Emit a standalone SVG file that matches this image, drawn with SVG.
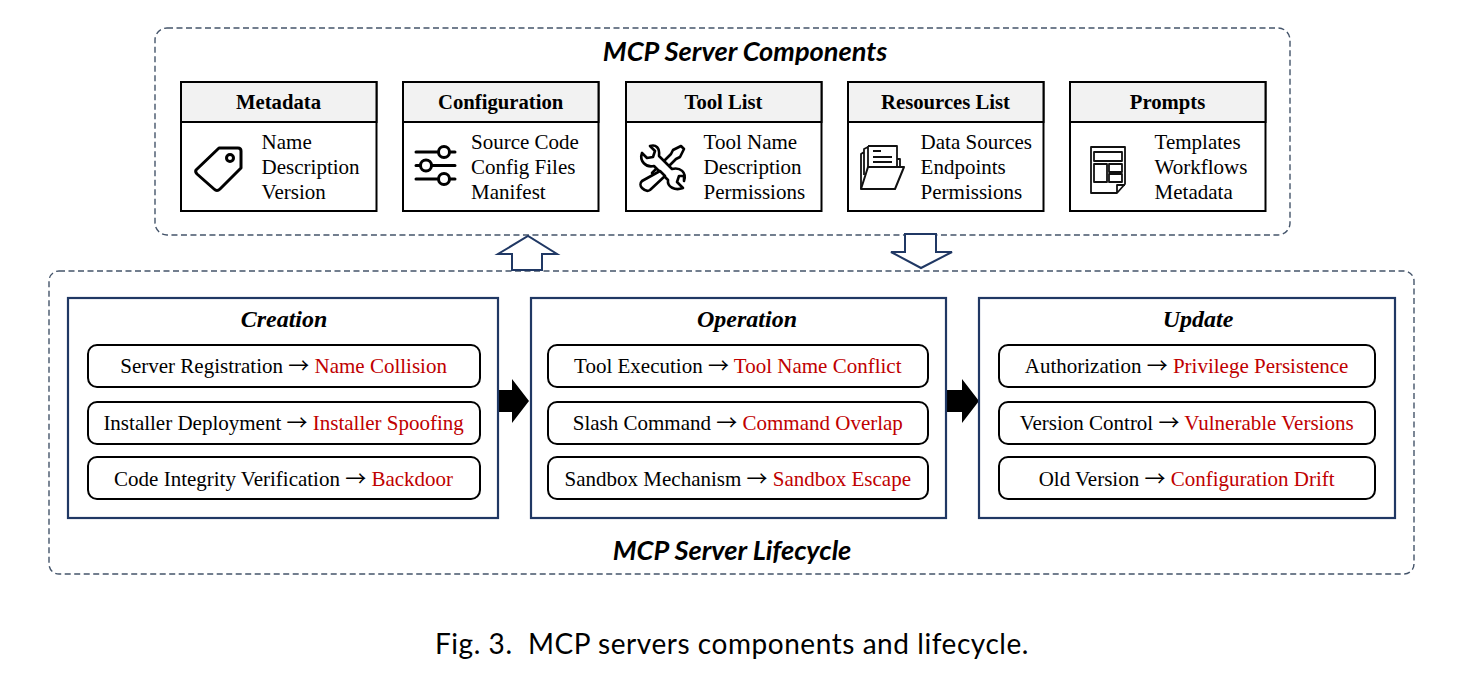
<svg xmlns="http://www.w3.org/2000/svg" width="1468" height="690" viewBox="0 0 1468 690">
<style>
text{font-family:"Liberation Serif","Times New Roman",serif;font-size:21px;fill:#000}
.hd{font-weight:bold;text-anchor:middle;font-size:20.7px}
.ph{font-weight:bold;font-style:italic;text-anchor:middle;font-size:24px}
.ti{font-family:"Lato","Open Sans",sans-serif;font-weight:bold;font-style:italic;text-anchor:middle;font-size:27.2px}
.cap{font-family:"Lato","Noto Sans",sans-serif;font-size:28px;letter-spacing:.55px;text-anchor:middle;white-space:pre}
.row{text-anchor:middle}
.r{fill:#c00000}
.a{font-family:"Noto Sans CJK SC","Liberation Serif",serif}
.dash{fill:none;stroke:#44546a;stroke-width:1.4;stroke-dasharray:6 3.5}
.card{fill:#fff;stroke:#000;stroke-width:2}
.head{fill:#f2f2f2;stroke:#000;stroke-width:2}
.phase{fill:#fff;stroke:#203864;stroke-width:2.2}
.pill{fill:#fff;stroke:#000;stroke-width:2}
.hol{fill:#fff;stroke:#203864;stroke-width:2}
.ic{fill:none;stroke:#000;stroke-width:3;stroke-linecap:round;stroke-linejoin:round}
.tl{fill:#fff;stroke:#000;stroke-width:2.6;stroke-linejoin:round}
.ic2{fill:none;stroke:#111;stroke-width:1.8;stroke-linejoin:round}
</style>
<rect width="1468" height="690" fill="#fff"/>
<g id="components">
<rect class="dash" x="155" y="28" width="1135" height="207" rx="12"/>
<text class="ti" x="745" y="61">MCP Server Components</text>
</g>
<g id="lifecycle">
<rect class="dash" x="49" y="271" width="1365" height="303" rx="10"/>
<text class="ti" x="732" y="560">MCP Server Lifecycle</text>
</g>
<g id="metadata">
<rect class="card" x="181" y="82" width="195.500" height="129"/>
<rect class="head" x="181" y="82" width="195.500" height="40"/>
<text class="hd" x="278.500" y="109">Metadata</text>
<text x="261.600" y="149">Name</text><text x="261.600" y="174">Description</text><text x="261.600" y="199">Version</text>
<path class="ic" d="M196 170 L219 148 H238 Q241 148 241 151 V168 L220 189 Q217 192 214 189 L197 174 Q195 172 196 170Z"/>
<circle class="ic" cx="230" cy="158" r="3.5"/>
</g>
<g id="configuration">
<rect class="card" x="403" y="82" width="195.500" height="129"/>
<rect class="head" x="403" y="82" width="195.500" height="40"/>
<text class="hd" x="500.700" y="109">Configuration</text>
<text x="471" y="149">Source Code</text><text x="471" y="174">Config Files</text><text x="471" y="199">Manifest</text>
<path class="ic" d="M416 152 H438 M450 152 H455 M416 165.500 H420 M432 165.500 H455 M416 179 H438 M450 179 H455"/>
<circle class="ic" cx="444" cy="152" r="5.500"/><circle class="ic" cx="426" cy="165.500" r="5.500"/><circle class="ic" cx="444" cy="179" r="5.500"/>
</g>
<g id="toollist">
<rect class="card" x="626" y="82" width="195.500" height="129"/>
<rect class="head" x="626" y="82" width="195.500" height="40"/>
<text class="hd" x="723.500" y="109">Tool List</text>
<text x="703.600" y="149">Tool Name</text><text x="703.600" y="174">Description</text><text x="703.600" y="199">Permissions</text>
<path class="tl" d="M681 146 L684 149 L680 157 L676 159 L657 178 L652 173 L671 154 L673 150 Z"/>
<path class="tl" d="M650 146 L655 151 L653 157 L647 158 L642 153 C639 161 646 168 654 166 L668 180 C667 187 675 191 683 188 L677 182 L679 176 L684 176 L684 181 C687 172 680 167 672 169 L659 156 C660 148 656 144 650 146 Z"/>
<path class="tl" d="M660 171 L665 176 L650 190 C647 192 644 190 642 188 C640 186 640 183 642 181 Z"/>
</g>
<g id="resources">
<rect class="card" x="848" y="82" width="195.500" height="129"/>
<rect class="head" x="848" y="82" width="195.500" height="40"/>
<text class="hd" x="945.500" y="109">Resources List</text>
<text x="920.600" y="149">Data Sources</text><text x="920.600" y="174">Endpoints</text><text x="920.600" y="199">Permissions</text>
<path class="ic2" d="M868 146 H897 V167 M868 146 V167 M861 189 V154 L864 152 V149 L868 147 M864 152 V175 M897 159 H900 V167"/>
<path class="ic2" d="M873 151 H881 M873 157 H892 M873 162 H892"/>
<path class="ic2" style="stroke-width:2" d="M861 189 H895 L904 167 H868 Z"/>
</g>
<g id="prompts">
<rect class="card" x="1070" y="82" width="195.500" height="129"/>
<rect class="head" x="1070" y="82" width="195.500" height="40"/>
<text class="hd" x="1167.500" y="109">Prompts</text>
<text x="1154.600" y="149">Templates</text><text x="1154.600" y="174">Workflows</text><text x="1154.600" y="199">Metadata</text>
<path class="ic2" d="M1091 147 H1125 V184 L1117 193 H1091 Z M1117 193 V185 H1125"/>
<path class="ic2" d="M1094 152 H1122 V161 H1094 Z M1094 164 H1107 V182 H1094 Z M1109 164 H1122 V172 H1109 Z M1109 174 H1122 V182 H1109 Z"/>
</g>
<g id="connectors">
<path class="hol" d="M512 270 V254 H498 L528 236 L557 254 H542 V270 Z"/>
<path class="hol" d="M905 234 V252 H891 L921 268 L952 252 H936 V234 Z"/>
<path fill="#000" d="M498 390 H512 V379 L529 401 L512 423 V412 H498 Z"/>
<path fill="#000" d="M946 390 H962 V379 L979 401 L962 423 V412 H946 Z"/>
</g>
<g id="creation">
<rect class="phase" x="68" y="298" width="430" height="220"/>
<text class="ph" x="284" y="327">Creation</text>
<rect class="pill" x="88" y="345" width="392" height="42" rx="9"/>
<text class="row" x="283.600" y="373">Server Registration <tspan class="a">→</tspan> <tspan class="r">Name Collision</tspan></text>
<rect class="pill" x="88" y="402" width="392" height="42" rx="9"/>
<text class="row" x="283.600" y="430">Installer Deployment <tspan class="a">→</tspan> <tspan class="r">Installer Spoofing</tspan></text>
<rect class="pill" x="88" y="457" width="392" height="42" rx="9"/>
<text class="row" x="283.600" y="486">Code Integrity Verification <tspan class="a">→</tspan> <tspan class="r">Backdoor</tspan></text>
</g>
<g id="operation">
<rect class="phase" x="531" y="298" width="415" height="220"/>
<text class="ph" x="747" y="327">Operation</text>
<rect class="pill" x="548" y="345" width="380" height="42" rx="9"/>
<text class="row" x="737.800" y="373">Tool Execution <tspan class="a">→</tspan> <tspan class="r">Tool Name Conflict</tspan></text>
<rect class="pill" x="548" y="402" width="380" height="42" rx="9"/>
<text class="row" x="737.800" y="430">Slash Command <tspan class="a">→</tspan> <tspan class="r">Command Overlap</tspan></text>
<rect class="pill" x="548" y="457" width="380" height="42" rx="9"/>
<text class="row" x="737.800" y="486">Sandbox Mechanism <tspan class="a">→</tspan> <tspan class="r">Sandbox Escape</tspan></text>
</g>
<g id="update">
<rect class="phase" x="979" y="298" width="416" height="220"/>
<text class="ph" x="1198" y="327">Update</text>
<rect class="pill" x="999" y="345" width="376" height="42" rx="9"/>
<text class="row" x="1186.600" y="373">Authorization <tspan class="a">→</tspan> <tspan class="r">Privilege Persistence</tspan></text>
<rect class="pill" x="999" y="402" width="376" height="42" rx="9"/>
<text class="row" x="1186.600" y="430">Version Control <tspan class="a">→</tspan> <tspan class="r">Vulnerable Versions</tspan></text>
<rect class="pill" x="999" y="457" width="376" height="42" rx="9"/>
<text class="row" x="1186.600" y="486">Old Version <tspan class="a">→</tspan> <tspan class="r">Configuration Drift</tspan></text>
</g>
<text class="cap" x="732" y="654">Fig. 3.  MCP servers components and lifecycle.</text>
</svg>
